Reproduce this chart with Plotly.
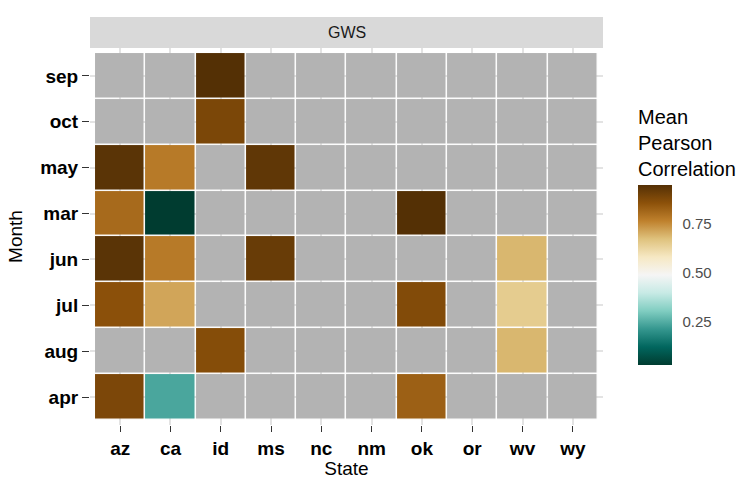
import plotly.graph_objects as go
import numpy as np

states = ["az", "ca", "id", "ms", "nc", "nm", "ok", "or", "wv", "wy"]
# months listed bottom to top
months = ["apr", "aug", "jul", "jun", "mar", "may", "oct", "sep"]

N = None
corr_apr = [0.885, 0.24, N, N, N, N, 0.83, N, N, N]
corr_aug = [N, N, 0.87, N, N, N, N, N, 0.69, N]
corr_jul = [0.86, 0.715, N, N, N, N, 0.875, N, 0.65, N]
corr_jun = [0.94, 0.78, N, 0.917, N, N, N, N, 0.69, N]
corr_mar = [0.81, 0.03, N, N, N, N, 0.95, N, N, N]
corr_may = [0.94, 0.78, N, 0.93, N, N, N, N, N, N]
corr_oct = [N, N, 0.886, N, N, N, N, N, N, N]
corr_sep = [N, N, 0.95, N, N, N, N, N, N, N]

z = [corr_apr, corr_aug, corr_jul, corr_jun, corr_mar, corr_may, corr_oct, corr_sep]
z_arr = np.array([[np.nan if v is None else v for v in row] for row in z])
na_mask = np.where(np.isnan(z_arr), 1.0, np.nan)

brbg = ["#003c30", "#01665e", "#35978f", "#80cdc1", "#c7eae5", "#f5f5f5",
        "#f6e8c3", "#dfc27d", "#bf812d", "#8c510a", "#543005"]
cscale = [[i / 10, c] for i, c in enumerate(brbg)]

# plot area in pixels: x 90..603, y 48..425
PW, PH = 513, 377

fig = go.Figure()
fig.add_trace(go.Heatmap(
    x=states, y=months, z=na_mask,
    colorscale=[[0, "#b3b3b3"], [1, "#b3b3b3"]], showscale=False,
    xgap=1.5, ygap=1.5, hoverinfo="skip"))
fig.add_trace(go.Heatmap(
    x=states, y=months, z=z_arr,
    colorscale=cscale, zmin=0.03, zmax=0.95,
    xgap=1.5, ygap=1.5,
    colorbar=dict(
        title=dict(text="Mean<br>Pearson<br>Correlation", side="top",
                   font=dict(size=20, color="#000000")),
        thickness=34, len=(365 - 106) / PH, lenmode="fraction",
        x=(638 - 90) / PW, xanchor="left", xpad=0, ypad=0,
        y=(425 - 365) / PH, yanchor="bottom",
        tickvals=[0.25, 0.5, 0.75], ticktext=["0.25", "0.50", "0.75"],
        ticks="outside", ticklen=8, tickcolor="rgba(255,255,255,0)", tickwidth=1,
        tickfont=dict(size=15, color="#4d4d4d"),
        outlinewidth=0)))

fig.update_layout(
    width=749, height=479,
    margin=dict(l=90, r=749 - 603, t=48, b=479 - 425),
    paper_bgcolor="white", plot_bgcolor="white",
    font=dict(family="Liberation Sans", color="#000000"),
    xaxis=dict(title=dict(text="State", font=dict(size=19), standoff=4),
               tickfont=dict(size=19, color="#000000", family="Liberation Sans", weight="bold"),
               ticks="outside", ticklen=6, tickcolor="#333333", automargin=False,
               range=[-0.6, 9.6], showgrid=True, gridcolor="#e3e3e3", gridwidth=1.5,
               zeroline=False),
    yaxis=dict(title=dict(text="Month", font=dict(size=19), standoff=12),
               tickfont=dict(size=19, color="#000000", family="Liberation Sans", weight="bold"),
               ticks="outside", ticklen=7, tickcolor="#333333", automargin=False,
               range=[-0.61, 7.61], showgrid=True, gridcolor="#e3e3e3", gridwidth=1.5,
               zeroline=False),
    shapes=[dict(type="rect", xref="paper", yref="paper",
                 x0=0, x1=1, y0=1.0, y1=1 + 31 / PH,
                 fillcolor="#d9d9d9", line=dict(width=0))],
    annotations=[dict(text="GWS", xref="paper", yref="paper", x=0.5, y=1 + 15.5 / PH,
                      showarrow=False, font=dict(size=16, color="#1a1a1a"),
                      xanchor="center", yanchor="middle")],
)

fig.write_html("out.html")
